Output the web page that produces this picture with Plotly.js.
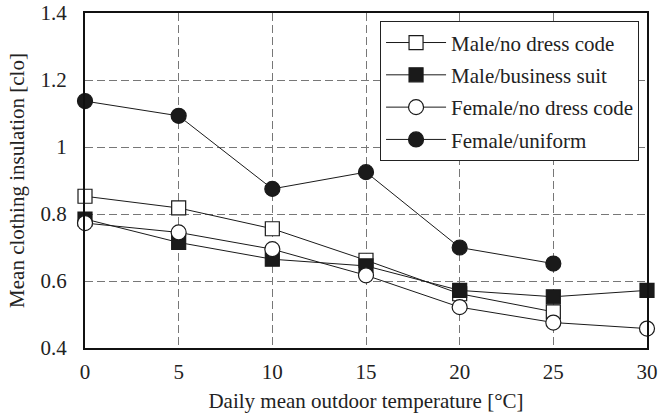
<!DOCTYPE html>
<html><head><meta charset="utf-8">
<script src="https://cdn.plot.ly/plotly-3.0.1.min.js"></script>
<style>html,body{margin:0;padding:0;background:#fff}#chart{width:659px;height:418px}</style>
</head><body><div id="chart"></div>
<script>
const temps = [0, 5, 10, 15, 20, 25, 30];
const maleNoCode = [0.853, 0.818, 0.756, 0.662, 0.562, 0.508, null];
const maleSuit = [0.785, 0.715, 0.665, 0.645, 0.572, 0.553, 0.572];
const femaleNoCode = [0.773, 0.745, 0.695, 0.617, 0.522, 0.476, 0.458];
const femaleUniform = [1.137, 1.093, 0.875, 0.925, 0.700, 0.652, null];
const seriesNames = ['Male/no dress code', 'Male/business suit', 'Female/no dress code', 'Female/uniform'];
const xTicks = [0, 5, 10, 15, 20, 25, 30];
const yTicks = [0.4, 0.6, 0.8, 1, 1.2, 1.4];

const font = 'Liberation Serif';
const fs = 21;
function tr(y, name, symbol, fill, i) {
  return {
    x: temps, y: y, name: name, type: 'scatter', mode: 'lines+markers',
    legendgroup: 'g' + i,
    connectgaps: false, cliponaxis: false,
    line: {color: '#1a1a1a', width: 1},
    marker: {symbol: symbol, size: symbol.indexOf('square') >= 0 ? 14 : 15, color: fill,
             line: {color: '#1a1a1a', width: 1.2}}
  };
}
const data = [
  tr(maleNoCode, seriesNames[0], 'square', '#ffffff', 0),
  tr(maleSuit, seriesNames[1], 'square', '#1a1a1a', 1),
  tr(femaleNoCode, seriesNames[2], 'circle', '#ffffff', 2),
  tr(femaleUniform, seriesNames[3], 'circle', '#1a1a1a', 3)
];
const layout = {
  width: 659, height: 418,
  margin: {l: 85, r: 12, t: 13, b: 70},
  paper_bgcolor: '#fff', plot_bgcolor: '#fff',
  font: {family: font, size: fs, color: '#222'},
  showlegend: true,
  legend: {x: 0.525, y: 0.975, xanchor: 'left', yanchor: 'top',
           bgcolor: '#fff', bordercolor: '#222', borderwidth: 1,
           traceorder: 'grouped', tracegroupgap: 2, itemwidth: 60,
           font: {family: font, size: fs, color: '#222'}},
  xaxis: {range: [0, 30], tickvals: xTicks, ticktext: xTicks.map(String),
          showgrid: true, gridcolor: '#777', griddash: '8px,4px', gridwidth: 1,
          showline: true, linecolor: '#111', linewidth: 2, mirror: true,
          ticks: '', zeroline: false, ticklabelstandoff: 4,
          tickfont: {family: font, size: fs, color: '#222'},
          title: {text: 'Daily mean outdoor temperature [°C]', font: {family: font, size: fs, color: '#222'}, standoff: 10}},
  yaxis: {range: [0.4, 1.4], tickvals: yTicks, ticktext: ['0.4', '0.6', '0.8', '1', '1.2', '1.4'],
          showgrid: true, gridcolor: '#777', griddash: '8px,4px', gridwidth: 1,
          showline: true, linecolor: '#111', linewidth: 2, mirror: true,
          ticks: '', zeroline: false, ticklabelstandoff: 12,
          tickfont: {family: font, size: fs, color: '#222'},
          title: {text: 'Mean clothing insulation [clo]', font: {family: font, size: fs, color: '#222'}, standoff: 10}}
};
Plotly.newPlot('chart', data, layout, {displayModeBar: false, staticPlot: true});
</script></body></html>
